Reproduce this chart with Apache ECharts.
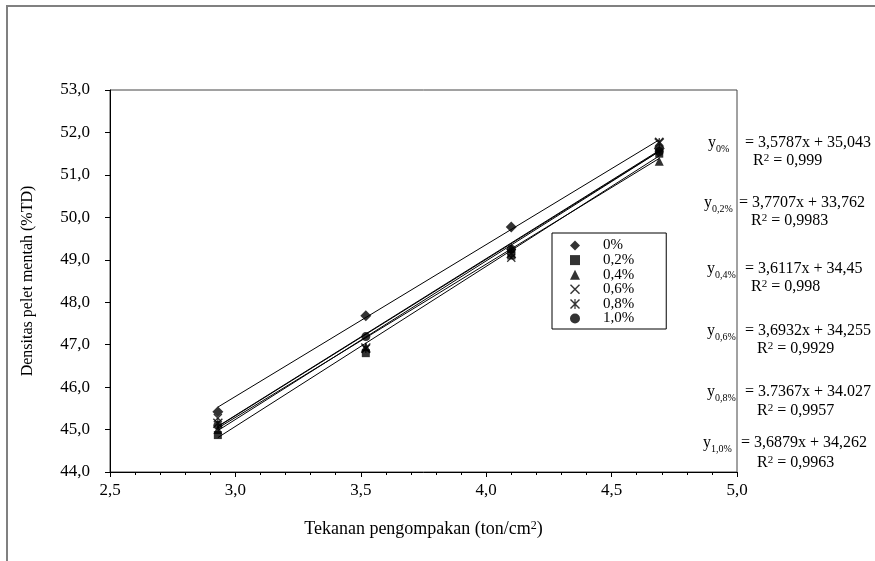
<!DOCTYPE html>
<html>
<head>
<meta charset="utf-8">
<script src="https://cdn.jsdelivr.net/npm/echarts@6/dist/echarts.min.js"></script>
<style>
    html, body { margin: 0; padding: 0; background: #fff; }
    #chart { width: 875px; height: 561px; }
</style>
</head>
<body>
<div id="chart"></div>
<script>
// tekanan pengompakan (ton/cm2)
const pressures = [2.93, 3.52, 4.10, 4.69];
const seriesNames = ['0%', '0,2%', '0,4%', '0,6%', '0,8%', '1,0%'];
// densitas pelet mentah (%TD) per kadar
const dens00 = [45.42, 47.68, 49.77, 51.62];
const dens02 = [44.87, 46.80, 49.10, 51.50];
const dens04 = [45.00, 46.95, 49.28, 51.32];
const dens06 = [45.27, 46.90, 49.05, 51.78];
const dens08 = [45.15, 46.92, 49.15, 51.75];
const dens10 = [45.10, 47.19, 49.25, 51.55];
// regresi linear dari grafik
const slopes = [3.5787, 3.7707, 3.6117, 3.6932, 3.7367, 3.6879];
const intercepts = [35.043, 33.762, 34.45, 34.255, 34.027, 34.262];
const eqTexts = ['= 3,5787x + 35,043', '= 3,7707x + 33,762', '= 3,6117x + 34,45',
    '= 3,6932x + 34,255', '= 3.7367x + 34.027', '= 3,6879x + 34,262'];
const r2Texts = ['0,999', '0,9983', '0,998', '0,9929', '0,9957', '0,9963'];
const yTicks = [44, 53, 1];
const xTicks = [2.5, 5, 0.5];

const allDens = [dens00, dens02, dens04, dens06, dens08, dens10];
const FONT = 'Liberation Serif';

const xShape = 'path://M0,1L1,0L5,4L9,0L10,1L6,5L10,9L9,10L5,6L1,10L0,9L4,5Z';
const starShape = 'path://M0,1L1,0L5,4L9,0L10,1L6,5L10,9L9,10L5,6L1,10L0,9L4,5ZM4.4,0L5.6,0L5.6,10L4.4,10Z';
const symbols = ['diamond', 'rect', 'triangle', xShape, starShape, 'circle'];
const symbolSizes = [11, 8, 9, 9, 10, 9];

const chart = echarts.init(document.getElementById('chart'));

const comma = v => v.toFixed(1).replace('.', ',');

const series = [];
allDens.forEach((d, i) => {
    const x0 = pressures[0], x1 = pressures[pressures.length - 1];
    series.push({
        name: 'trend ' + seriesNames[i],
        type: 'line',
        data: [[x0, slopes[i] * x0 + intercepts[i]], [x1, slopes[i] * x1 + intercepts[i]]],
        symbol: 'none',
        lineStyle: { color: '#000', width: 1 },
        silent: true,
        z: 2
    });
});
allDens.forEach((d, i) => {
    series.push({
        name: seriesNames[i],
        type: 'scatter',
        data: pressures.map((p, j) => [p, d[j]]),
        symbol: symbols[i],
        symbolSize: symbolSizes[i],
        itemStyle: { color: '#000' },
        z: 3
    });
});

// teks persamaan di kanan
const eqY = [143, 203, 269, 331, 392, 443];
const r2Y = [161, 221, 287, 349, 411, 463];
const yX = [708, 704, 707, 707, 707, 703];
const eqX = [745, 739, 745, 745, 745, 741];
const rX = [753, 751, 751, 757, 757, 757];
const graphics = [{
    type: 'rect',
    shape: { x: 7, y: 6, width: 1000, height: 1000 },
    style: { fill: 'none', stroke: '#808080', lineWidth: 2 },
    silent: true
}];
seriesNames.forEach((n, i) => {
    graphics.push({
        type: 'text', x: yX[i], y: eqY[i] - 8,
        style: {
            text: '{y|y}{s|' + n + '}', verticalAlign: 'top',
            rich: {
                y: { fontFamily: FONT, fontSize: 16, lineHeight: 16, verticalAlign: 'top', fill: '#000' },
                s: { fontFamily: FONT, fontSize: 10, lineHeight: 10, padding: [9, 0, 0, 0], verticalAlign: 'top', fill: '#000' }
            }
        }
    });
    graphics.push({
        type: 'text', x: eqX[i], y: eqY[i],
        style: { text: eqTexts[i], font: '16px ' + FONT, fill: '#000', verticalAlign: 'middle' }
    });
    graphics.push({
        type: 'text', x: rX[i], y: r2Y[i] - 8,
        style: {
            text: '{r|R}{p|2}{r| = ' + r2Texts[i] + '}', verticalAlign: 'top',
            rich: {
                r: { fontFamily: FONT, fontSize: 16, lineHeight: 16, verticalAlign: 'top', fill: '#000' },
                p: { fontFamily: FONT, fontSize: 11, lineHeight: 11, verticalAlign: 'top', fill: '#000' }
            }
        }
    });
});

chart.setOption({
    animation: false,
    backgroundColor: '#fff',
    textStyle: { fontFamily: FONT },
    grid: {
        left: 110, right: 138, top: 90, bottom: 89,
        show: true, borderColor: '#444', borderWidth: 1
    },
    legend: {
        data: seriesNames,
        orient: 'vertical',
        left: 552, top: 233,
        itemWidth: 10, itemHeight: 10, itemGap: -0.4,
        padding: [5, 32, 3, 18],
        borderColor: '#000', borderWidth: 1,
        backgroundColor: '#fff',
        textStyle: { fontFamily: FONT, fontSize: 15, lineHeight: 15, color: '#000', padding: [0, 0, 0, 18] }
    },
    xAxis: {
        type: 'value',
        min: xTicks[0], max: xTicks[1], interval: xTicks[2],
        name: 'Tekanan pengompakan (ton/cm{sup|2})',
        nameLocation: 'middle', nameGap: 48,
        nameTextStyle: {
            fontFamily: FONT, fontSize: 18, color: '#000',
            rich: {
                sup: { fontFamily: FONT, fontSize: 12, lineHeight: 12, verticalAlign: 'top' }
            }
        },
        axisLine: { onZero: false, lineStyle: { color: '#000', width: 1 } },
        axisTick: { length: 5, lineStyle: { color: '#000' } },
        minorTick: { show: true, splitNumber: 5, length: 3, lineStyle: { color: '#000' } },
        splitLine: { show: false },
        axisLabel: { margin: 10, fontFamily: FONT, fontSize: 17, color: '#000', formatter: comma }
    },
    yAxis: {
        type: 'value',
        min: yTicks[0], max: yTicks[1], interval: yTicks[2],
        name: 'Densitas pelet mentah (%TD)',
        nameLocation: 'middle', nameGap: 74,
        nameTextStyle: { fontFamily: FONT, fontSize: 16, color: '#000' },
        axisLine: { onZero: false, lineStyle: { color: '#000', width: 1 } },
        axisTick: { length: 5, lineStyle: { color: '#000' } },
        splitLine: { show: false },
        axisLabel: { margin: 20, fontFamily: FONT, fontSize: 17, color: '#000', formatter: comma }
    },
    graphic: graphics,
    series: series
});
</script>
</body>
</html>
